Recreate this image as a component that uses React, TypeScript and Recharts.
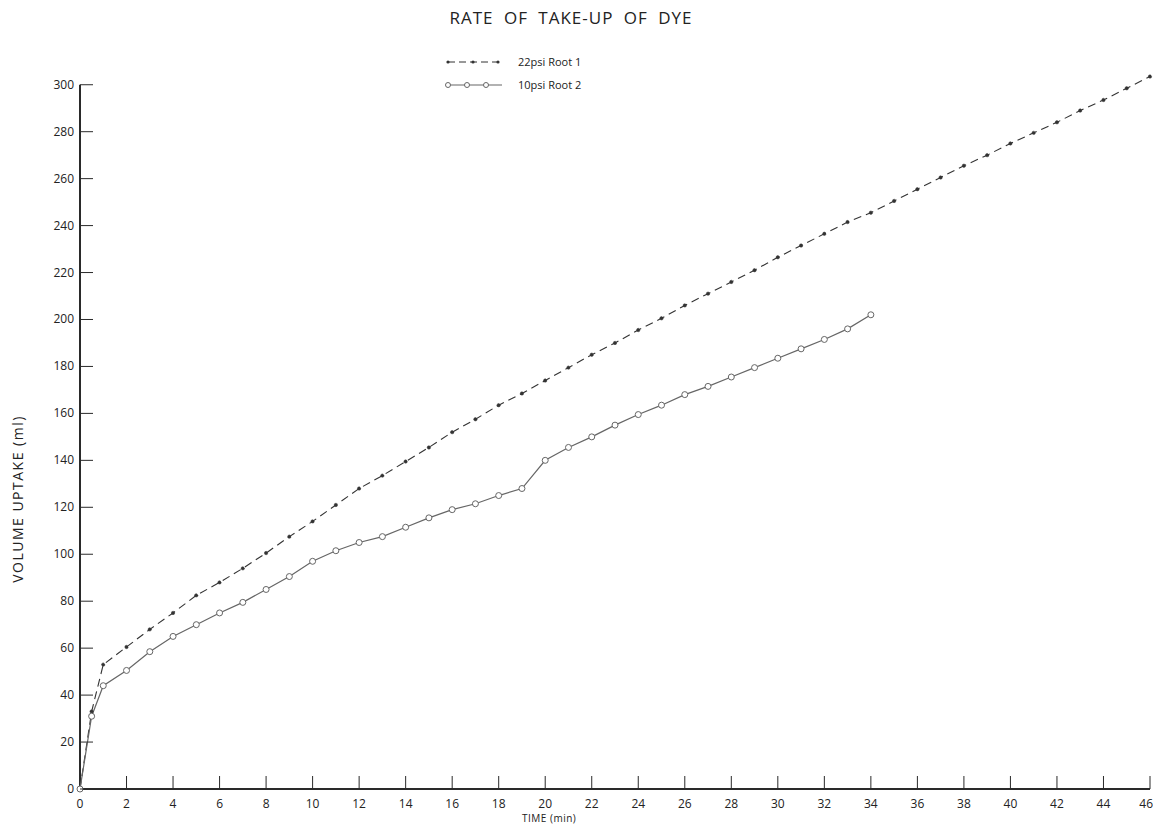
import { LineChart, Line, XAxis, YAxis, Legend, ReferenceLine, Label } from 'recharts'

const FONT = '"Open Sans", "DejaVu Sans", sans-serif'
const INK = '#222'
const AXIS = '#2a2a2a'
const ROOT1_COLOR = '#333'
const ROOT2_COLOR = '#666'

const ROOT1_NAME = '22psi Root 1'
const ROOT2_NAME = '10psi Root 2'

// minutes at which readings were taken
const minutes = [
  0, 0.5, 1, 2, 3, 4, 5, 6, 7, 8, 9, 10, 11, 12, 13, 14, 15, 16, 17, 18, 19, 20, 21, 22, 23,
  24, 25, 26, 27, 28, 29, 30, 31, 32, 33, 34, 35, 36, 37, 38, 39, 40, 41, 42, 43, 44, 45, 46,
]

// volume uptake (ml), 22 psi
const root1 = [
  0, 33, 53, 60.5, 68, 75, 82.5, 88, 94, 100.5, 107.5, 114, 121, 128, 133.5, 139.5, 145.5,
  152, 157.5, 163.5, 168.5, 174, 179.5, 185, 190, 195.5, 200.5, 206, 211, 216, 221, 226.5,
  231.5, 236.5, 241.5, 245.5, 250.5, 255.5, 260.5, 265.5, 270, 275, 279.5, 284, 289, 293.5,
  298.5, 303.5,
]

// volume uptake (ml), 10 psi - stops at 34 min
const root2 = [
  0, 31, 44, 50.5, 58.5, 65, 70, 75, 79.5, 85, 90.5, 97, 101.5, 105, 107.5, 111.5, 115.5,
  119, 121.5, 125, 128, 140, 145.5, 150, 155, 159.5, 163.5, 168, 171.5, 175.5, 179.5, 183.5,
  187.5, 191.5, 196, 202,
]

const xTicks = [0, 2, 4, 6, 8, 10, 12, 14, 16, 18, 20, 22, 24, 26, 28, 30, 32, 34, 36, 38, 40, 42, 44, 46]
const yTicks = [0, 20, 40, 60, 80, 100, 120, 140, 160, 180, 200, 220, 240, 260, 280, 300]
const lastTick = xTicks[xTicks.length - 1]

const data = minutes.map((t, i) => ({
  t,
  root1: root1[i] ?? null,
  root2: root2[i] ?? null,
}))

function TimeTick({ x, y, payload }: any) {
  // last label would run past the svg edge, so pin its right side
  const isLast = payload.value === lastTick
  return (
    <g>
      {payload.value !== 0 && <line x1={x} y1={y} x2={x} y2={y - 13} stroke={AXIS} strokeWidth={1} />}
      <text
        x={isLast ? x + 3 : x}
        y={y + 19}
        textAnchor={isLast ? 'end' : 'middle'}
        fontSize={12}
        fill={INK}
        fontFamily={FONT}
      >
        {payload.value}
      </text>
    </g>
  )
}

function VolumeTick({ x, y, payload }: any) {
  return (
    <g>
      <line x1={x} y1={y} x2={x + 13} y2={y} stroke={AXIS} strokeWidth={1} />
      <text x={x - 6} y={y + 4} textAnchor="end" fontSize={12} fill={INK} fontFamily={FONT}>
        {payload.value}
      </text>
    </g>
  )
}

function Key() {
  return (
    <svg width={180} height={40}>
      <line x1={3} y1={8} x2={53} y2={8} stroke={ROOT1_COLOR} strokeWidth={1} strokeDasharray="7 4" />
      {[3, 28, 53].map((cx) => (
        <circle key={cx} cx={cx} cy={8} r={1.6} fill={ROOT1_COLOR} />
      ))}
      <text x={73} y={12} fontSize={11} fill={INK} fontFamily={FONT}>
        {ROOT1_NAME}
      </text>
      <line x1={3} y1={31} x2={57} y2={31} stroke={ROOT2_COLOR} strokeWidth={1.2} />
      {[3, 22, 41].map((cx) => (
        <circle key={cx} cx={cx} cy={31} r={2.5} fill="#fff" stroke={ROOT2_COLOR} strokeWidth={1} />
      ))}
      <text x={73} y={35} fontSize={11} fill={INK} fontFamily={FONT}>
        {ROOT2_NAME}
      </text>
    </svg>
  )
}

export default function App() {
  return (
    <div style={{ position: 'relative', width: 1145, height: 816, fontFamily: FONT }}>
      <div
        style={{
          position: 'absolute',
          top: 0,
          left: 0,
          width: 1126,
          textAlign: 'center',
          fontSize: 17,
          letterSpacing: 1,
          wordSpacing: 5,
          color: INK,
          lineHeight: '20px',
        }}
      >
        RATE OF TAKE-UP OF DYE
      </div>
      <LineChart width={1145} height={816} data={data} margin={{ top: 65, right: 3, bottom: 0, left: 12 }}>
        <XAxis
          type="number"
          dataKey="t"
          domain={[0, 46]}
          ticks={xTicks}
          interval={0}
          height={35}
          tickSize={0}
          tickMargin={0}
          tickLine={false}
          tick={<TimeTick />}
          axisLine={{ stroke: AXIS, strokeWidth: 2 }}
        >
          <Label
            content={({ viewBox }: any) => (
              <text
                x={viewBox.x + 442}
                y={viewBox.y + 33}
                fontSize={10}
                fill={INK}
                fontFamily={FONT}
                letterSpacing={0.5}
              >
                TIME  (min)
              </text>
            )}
          />
        </XAxis>
        <YAxis
          type="number"
          domain={[0, 305]}
          ticks={yTicks}
          interval={0}
          width={60}
          tickSize={0}
          tickMargin={0}
          tickLine={false}
          tick={<VolumeTick />}
          axisLine={false}
        >
          <Label
            content={({ viewBox }: any) => {
              const cx = viewBox.x + 3
              const cy = viewBox.y + viewBox.height / 2 + 68
              return (
                <text
                  x={cx}
                  y={cy}
                  transform={`rotate(-90 ${cx} ${cy})`}
                  textAnchor="middle"
                  fontSize={14}
                  fill={INK}
                  fontFamily={FONT}
                  letterSpacing={1.5}
                >
                  VOLUME  UPTAKE  (ml)
                </text>
              )
            }}
          />
        </YAxis>
        <ReferenceLine
          segment={[
            { x: 0, y: 0 },
            { x: 0, y: 300 },
          ]}
          stroke={AXIS}
          strokeWidth={2}
        />
        <Legend
          layout="vertical"
          verticalAlign="middle"
          align="center"
          wrapperStyle={{ position: 'absolute', left: 437, top: 46, width: 180 }}
          content={() => <Key />}
        />
        <Line
          type="linear"
          dataKey="root1"
          name={ROOT1_NAME}
          stroke={ROOT1_COLOR}
          strokeWidth={1.1}
          strokeDasharray="8 5"
          dot={{ r: 1.7, fill: ROOT1_COLOR, stroke: ROOT1_COLOR, strokeWidth: 0.5 }}
          activeDot={false}
          isAnimationActive={false}
        />
        <Line
          type="linear"
          dataKey="root2"
          name={ROOT2_NAME}
          stroke={ROOT2_COLOR}
          strokeWidth={1.2}
          dot={{ r: 3, fill: '#fff', stroke: ROOT2_COLOR, strokeWidth: 1 }}
          activeDot={false}
          isAnimationActive={false}
        />
      </LineChart>
    </div>
  )
}
